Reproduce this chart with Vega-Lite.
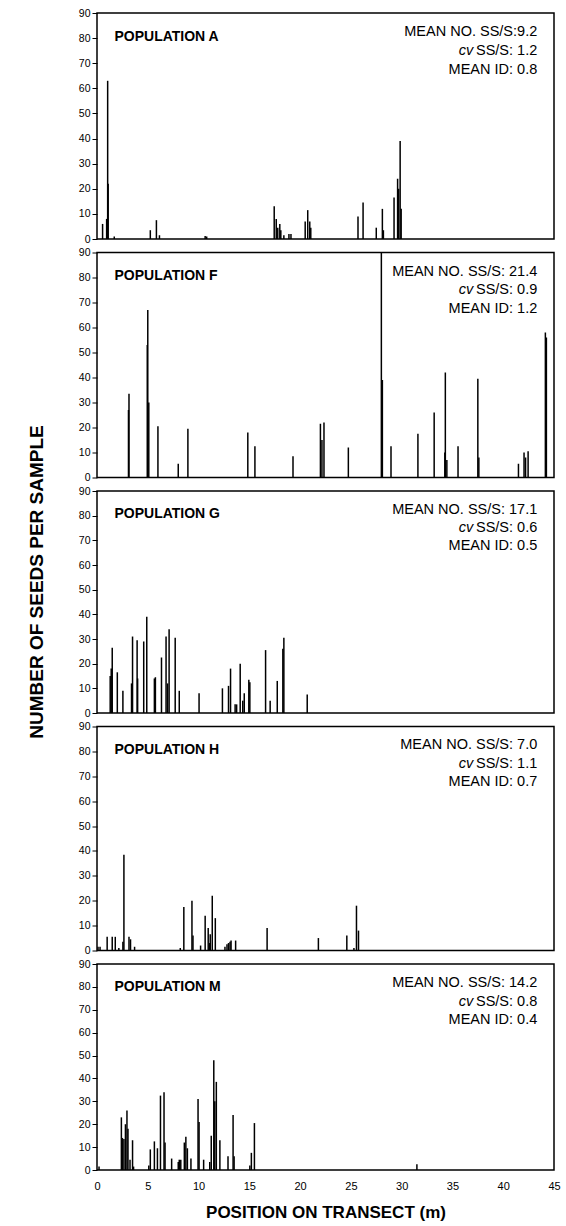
{
  "$schema": "https://vega.github.io/schema/vega-lite/v6.json",
  "padding": {"left": 27, "top": 7, "right": 5, "bottom": 2},
  "background": "white",
  "title": {"text": "NUMBER OF SEEDS PER SAMPLE", "orient": "left", "anchor": "middle", "fontSize": 19, "font": "Liberation Sans", "fontWeight": "bold", "color": "#000", "offset": 31, "dx": 32},
  "spacing": 0.5,
  "config": {
    "view": {"stroke": "#000", "strokeWidth": 1.5},
    "axis": {"labelFont": "Liberation Sans", "labelColor": "#000", "tickColor": "#000", "grid": false, "domain": false, "titleFont": "Liberation Sans", "titleColor": "#000"},
    "axisY": {"tickSize": 5, "tickWidth": 1, "labelFontSize": 10.5, "labelPadding": 2, "tickCount": 10, "labelOverlap": false},
    "text": {"font": "Liberation Sans", "color": "#000"}
  },
  "datasets": {
    "labels": [
      {"pop": "A", "label": "POPULATION A", "mean": "MEAN NO. SS/S:9.2", "cv": "SS/S: 1.2", "id": "MEAN ID: 0.8"},
      {"pop": "F", "label": "POPULATION F", "mean": "MEAN NO. SS/S: 21.4", "cv": "SS/S: 0.9", "id": "MEAN ID: 1.2"},
      {"pop": "G", "label": "POPULATION G", "mean": "MEAN NO. SS/S: 17.1", "cv": "SS/S: 0.6", "id": "MEAN ID: 0.5"},
      {"pop": "H", "label": "POPULATION H", "mean": "MEAN NO. SS/S: 7.0", "cv": "SS/S: 1.1", "id": "MEAN ID: 0.7"},
      {"pop": "M", "label": "POPULATION M", "mean": "MEAN NO. SS/S: 14.2", "cv": "SS/S: 0.8", "id": "MEAN ID: 0.4"}
    ],
    "spikes": [
      {"pop": "A", "pos": 0.55, "seeds": 6}, {"pop": "A", "pos": 0.95, "seeds": 8}, {"pop": "A", "pos": 1.05, "seeds": 63}, {"pop": "A", "pos": 1.1, "seeds": 22},
      {"pop": "A", "pos": 1.7, "seeds": 1}, {"pop": "A", "pos": 5.25, "seeds": 3.5}, {"pop": "A", "pos": 5.85, "seeds": 7.5}, {"pop": "A", "pos": 6.15, "seeds": 1.5},
      {"pop": "A", "pos": 10.65, "seeds": 1.2}, {"pop": "A", "pos": 10.8, "seeds": 1}, {"pop": "A", "pos": 17.45, "seeds": 13}, {"pop": "A", "pos": 17.65, "seeds": 8},
      {"pop": "A", "pos": 17.8, "seeds": 4.5}, {"pop": "A", "pos": 18.0, "seeds": 6}, {"pop": "A", "pos": 18.1, "seeds": 3.5}, {"pop": "A", "pos": 18.4, "seeds": 1.5},
      {"pop": "A", "pos": 18.9, "seeds": 2}, {"pop": "A", "pos": 19.1, "seeds": 2}, {"pop": "A", "pos": 20.5, "seeds": 7}, {"pop": "A", "pos": 20.75, "seeds": 11.5},
      {"pop": "A", "pos": 20.95, "seeds": 7}, {"pop": "A", "pos": 21.05, "seeds": 4.5}, {"pop": "A", "pos": 25.7, "seeds": 9}, {"pop": "A", "pos": 26.2, "seeds": 14.5},
      {"pop": "A", "pos": 27.5, "seeds": 4.5}, {"pop": "A", "pos": 28.1, "seeds": 12}, {"pop": "A", "pos": 28.2, "seeds": 3.5}, {"pop": "A", "pos": 29.25, "seeds": 16.5},
      {"pop": "A", "pos": 29.6, "seeds": 24}, {"pop": "A", "pos": 29.7, "seeds": 20}, {"pop": "A", "pos": 29.85, "seeds": 39}, {"pop": "A", "pos": 29.95, "seeds": 12},

      {"pop": "F", "pos": 3.1, "seeds": 27}, {"pop": "F", "pos": 3.15, "seeds": 33.5}, {"pop": "F", "pos": 4.95, "seeds": 53}, {"pop": "F", "pos": 5.0, "seeds": 67},
      {"pop": "F", "pos": 5.1, "seeds": 30}, {"pop": "F", "pos": 6.0, "seeds": 20.5}, {"pop": "F", "pos": 8.0, "seeds": 5.5}, {"pop": "F", "pos": 8.95, "seeds": 19.5},
      {"pop": "F", "pos": 14.85, "seeds": 18}, {"pop": "F", "pos": 15.55, "seeds": 12.5}, {"pop": "F", "pos": 19.3, "seeds": 8.5}, {"pop": "F", "pos": 22.0, "seeds": 21.5},
      {"pop": "F", "pos": 22.15, "seeds": 15}, {"pop": "F", "pos": 22.35, "seeds": 22}, {"pop": "F", "pos": 24.75, "seeds": 12}, {"pop": "F", "pos": 28.0, "seeds": 90},
      {"pop": "F", "pos": 28.1, "seeds": 39}, {"pop": "F", "pos": 28.95, "seeds": 12.5}, {"pop": "F", "pos": 31.6, "seeds": 17.5}, {"pop": "F", "pos": 33.2, "seeds": 26},
      {"pop": "F", "pos": 34.25, "seeds": 10}, {"pop": "F", "pos": 34.3, "seeds": 42}, {"pop": "F", "pos": 34.45, "seeds": 7}, {"pop": "F", "pos": 35.55, "seeds": 12.5},
      {"pop": "F", "pos": 37.5, "seeds": 39.5}, {"pop": "F", "pos": 37.6, "seeds": 8}, {"pop": "F", "pos": 41.5, "seeds": 5.5}, {"pop": "F", "pos": 42.05, "seeds": 10},
      {"pop": "F", "pos": 42.2, "seeds": 8}, {"pop": "F", "pos": 42.45, "seeds": 10.5}, {"pop": "F", "pos": 44.15, "seeds": 58}, {"pop": "F", "pos": 44.25, "seeds": 56},

      {"pop": "G", "pos": 1.3, "seeds": 15}, {"pop": "G", "pos": 1.4, "seeds": 18}, {"pop": "G", "pos": 1.5, "seeds": 26.5}, {"pop": "G", "pos": 2.0, "seeds": 16.5},
      {"pop": "G", "pos": 2.55, "seeds": 9}, {"pop": "G", "pos": 3.4, "seeds": 12}, {"pop": "G", "pos": 3.5, "seeds": 31}, {"pop": "G", "pos": 3.95, "seeds": 29.5},
      {"pop": "G", "pos": 4.0, "seeds": 14}, {"pop": "G", "pos": 4.6, "seeds": 29}, {"pop": "G", "pos": 4.9, "seeds": 39}, {"pop": "G", "pos": 5.65, "seeds": 14},
      {"pop": "G", "pos": 5.75, "seeds": 14.5}, {"pop": "G", "pos": 6.35, "seeds": 22.5}, {"pop": "G", "pos": 6.8, "seeds": 31}, {"pop": "G", "pos": 6.95, "seeds": 12},
      {"pop": "G", "pos": 7.1, "seeds": 34}, {"pop": "G", "pos": 7.7, "seeds": 30.5}, {"pop": "G", "pos": 8.1, "seeds": 9}, {"pop": "G", "pos": 10.05, "seeds": 8},
      {"pop": "G", "pos": 12.35, "seeds": 10}, {"pop": "G", "pos": 12.95, "seeds": 11}, {"pop": "G", "pos": 13.15, "seeds": 18}, {"pop": "G", "pos": 13.6, "seeds": 3.5},
      {"pop": "G", "pos": 13.75, "seeds": 3.5}, {"pop": "G", "pos": 14.1, "seeds": 20}, {"pop": "G", "pos": 14.35, "seeds": 5}, {"pop": "G", "pos": 14.5, "seeds": 8},
      {"pop": "G", "pos": 14.95, "seeds": 13.5}, {"pop": "G", "pos": 15.05, "seeds": 12.5}, {"pop": "G", "pos": 16.6, "seeds": 25.5}, {"pop": "G", "pos": 17.05, "seeds": 5},
      {"pop": "G", "pos": 17.75, "seeds": 13}, {"pop": "G", "pos": 18.3, "seeds": 26}, {"pop": "G", "pos": 18.4, "seeds": 30.5}, {"pop": "G", "pos": 20.7, "seeds": 7.5},

      {"pop": "H", "pos": 0.1, "seeds": 1.5}, {"pop": "H", "pos": 0.3, "seeds": 1.5}, {"pop": "H", "pos": 1.0, "seeds": 5.5}, {"pop": "H", "pos": 1.5, "seeds": 5.5},
      {"pop": "H", "pos": 1.8, "seeds": 5.5}, {"pop": "H", "pos": 2.15, "seeds": 1}, {"pop": "H", "pos": 2.55, "seeds": 3.5}, {"pop": "H", "pos": 2.65, "seeds": 38.5},
      {"pop": "H", "pos": 3.15, "seeds": 5.5}, {"pop": "H", "pos": 3.3, "seeds": 4.5}, {"pop": "H", "pos": 3.7, "seeds": 1.5}, {"pop": "H", "pos": 8.2, "seeds": 1},
      {"pop": "H", "pos": 8.55, "seeds": 17.5}, {"pop": "H", "pos": 9.35, "seeds": 20}, {"pop": "H", "pos": 9.45, "seeds": 6}, {"pop": "H", "pos": 10.2, "seeds": 2},
      {"pop": "H", "pos": 10.65, "seeds": 14}, {"pop": "H", "pos": 10.95, "seeds": 9}, {"pop": "H", "pos": 11.1, "seeds": 3}, {"pop": "H", "pos": 11.15, "seeds": 6.5},
      {"pop": "H", "pos": 11.35, "seeds": 22}, {"pop": "H", "pos": 11.65, "seeds": 13}, {"pop": "H", "pos": 12.6, "seeds": 1.5}, {"pop": "H", "pos": 12.8, "seeds": 2.5},
      {"pop": "H", "pos": 12.95, "seeds": 3}, {"pop": "H", "pos": 13.1, "seeds": 3.5}, {"pop": "H", "pos": 13.2, "seeds": 4}, {"pop": "H", "pos": 13.65, "seeds": 4},
      {"pop": "H", "pos": 16.75, "seeds": 9}, {"pop": "H", "pos": 21.8, "seeds": 5}, {"pop": "H", "pos": 24.6, "seeds": 6}, {"pop": "H", "pos": 25.3, "seeds": 1},
      {"pop": "H", "pos": 25.55, "seeds": 18}, {"pop": "H", "pos": 25.75, "seeds": 8},

      {"pop": "M", "pos": 0.2, "seeds": 1.5}, {"pop": "M", "pos": 2.4, "seeds": 23}, {"pop": "M", "pos": 2.5, "seeds": 14}, {"pop": "M", "pos": 2.65, "seeds": 13.5},
      {"pop": "M", "pos": 2.8, "seeds": 20}, {"pop": "M", "pos": 2.95, "seeds": 26}, {"pop": "M", "pos": 3.05, "seeds": 18}, {"pop": "M", "pos": 3.25, "seeds": 4.5},
      {"pop": "M", "pos": 3.5, "seeds": 13}, {"pop": "M", "pos": 3.6, "seeds": 1.5}, {"pop": "M", "pos": 5.1, "seeds": 2}, {"pop": "M", "pos": 5.25, "seeds": 9},
      {"pop": "M", "pos": 5.65, "seeds": 12.5}, {"pop": "M", "pos": 5.95, "seeds": 9.5}, {"pop": "M", "pos": 6.25, "seeds": 32.5}, {"pop": "M", "pos": 6.6, "seeds": 34},
      {"pop": "M", "pos": 6.7, "seeds": 12}, {"pop": "M", "pos": 7.35, "seeds": 5}, {"pop": "M", "pos": 8.0, "seeds": 3.5}, {"pop": "M", "pos": 8.1, "seeds": 4.5},
      {"pop": "M", "pos": 8.25, "seeds": 4.5}, {"pop": "M", "pos": 8.6, "seeds": 12}, {"pop": "M", "pos": 8.75, "seeds": 14.5}, {"pop": "M", "pos": 8.9, "seeds": 9.5},
      {"pop": "M", "pos": 9.25, "seeds": 5}, {"pop": "M", "pos": 9.95, "seeds": 31}, {"pop": "M", "pos": 10.05, "seeds": 21}, {"pop": "M", "pos": 10.5, "seeds": 4.5},
      {"pop": "M", "pos": 11.1, "seeds": 3.5}, {"pop": "M", "pos": 11.25, "seeds": 15}, {"pop": "M", "pos": 11.5, "seeds": 48}, {"pop": "M", "pos": 11.6, "seeds": 30},
      {"pop": "M", "pos": 11.75, "seeds": 38.5}, {"pop": "M", "pos": 12.1, "seeds": 13}, {"pop": "M", "pos": 12.9, "seeds": 6}, {"pop": "M", "pos": 13.4, "seeds": 24},
      {"pop": "M", "pos": 13.5, "seeds": 6}, {"pop": "M", "pos": 15.05, "seeds": 2}, {"pop": "M", "pos": 15.2, "seeds": 7.5}, {"pop": "M", "pos": 15.5, "seeds": 20.5},
      {"pop": "M", "pos": 31.5, "seeds": 2.5}
    ]
  },
  "vconcat": [
    {
      "width": 457, "height": 226,
      "layer": [
        {"data": {"name": "spikes"}, "transform": [{"filter": "datum.pop === 'A'"}], "mark": {"type": "rule", "color": "#000", "strokeWidth": 1.5},
         "encoding": {"x": {"field": "pos", "type": "quantitative", "scale": {"domain": [0, 45], "nice": false}, "axis": null},
                      "y": {"field": "seeds", "type": "quantitative", "scale": {"domain": [0, 90], "nice": false}, "axis": {"values": [0,10,20,30,40,50,60,70,80,90], "title": null}},
                      "y2": {"datum": 0}}},
        {"data": {"name": "labels"}, "transform": [{"filter": "datum.pop === 'A'"}], "mark": {"type": "text", "fontWeight": "bold", "fontSize": 14, "align": "left", "baseline": "alphabetic"},
         "encoding": {"x": {"datum": 1.72}, "y": {"datum": 79}, "text": {"field": "label"}}},
        {"data": {"name": "labels"}, "transform": [{"filter": "datum.pop === 'A'"}], "mark": {"type": "text", "fontSize": 14.5, "align": "right", "baseline": "alphabetic"},
         "encoding": {"x": {"datum": 43.35}, "y": {"datum": 80.8}, "text": {"field": "mean"}}},
        {"data": {"name": "labels"}, "transform": [{"filter": "datum.pop === 'A'"}], "mark": {"type": "text", "fontSize": 14.5, "align": "right", "baseline": "alphabetic"},
         "encoding": {"x": {"datum": 43.35}, "y": {"datum": 73.3}, "text": {"field": "cv"}}},
        {"data": {"name": "labels"}, "transform": [{"filter": "datum.pop === 'A'"}], "mark": {"type": "text", "fontSize": 14.5, "fontStyle": "italic", "align": "right", "baseline": "alphabetic"},
         "encoding": {"x": {"datum": 37.05}, "y": {"datum": 73.3}, "text": {"value": "cv"}}},
        {"data": {"name": "labels"}, "transform": [{"filter": "datum.pop === 'A'"}], "mark": {"type": "text", "fontSize": 14.5, "align": "right", "baseline": "alphabetic"},
         "encoding": {"x": {"datum": 43.35}, "y": {"datum": 65.9}, "text": {"field": "id"}}}
      ]
    },
    {
      "width": 457, "height": 225,
      "layer": [
        {"data": {"name": "spikes"}, "transform": [{"filter": "datum.pop === 'F'"}], "mark": {"type": "rule", "color": "#000", "strokeWidth": 1.5},
         "encoding": {"x": {"field": "pos", "type": "quantitative", "scale": {"domain": [0, 45], "nice": false}, "axis": null},
                      "y": {"field": "seeds", "type": "quantitative", "scale": {"domain": [0, 90], "nice": false}, "axis": {"values": [0,10,20,30,40,50,60,70,80,90], "title": null}},
                      "y2": {"datum": 0}}},
        {"data": {"name": "labels"}, "transform": [{"filter": "datum.pop === 'F'"}], "mark": {"type": "text", "fontWeight": "bold", "fontSize": 14, "align": "left", "baseline": "alphabetic"},
         "encoding": {"x": {"datum": 1.72}, "y": {"datum": 79}, "text": {"field": "label"}}},
        {"data": {"name": "labels"}, "transform": [{"filter": "datum.pop === 'F'"}], "mark": {"type": "text", "fontSize": 14.5, "align": "right", "baseline": "alphabetic"},
         "encoding": {"x": {"datum": 43.35}, "y": {"datum": 80.8}, "text": {"field": "mean"}}},
        {"data": {"name": "labels"}, "transform": [{"filter": "datum.pop === 'F'"}], "mark": {"type": "text", "fontSize": 14.5, "align": "right", "baseline": "alphabetic"},
         "encoding": {"x": {"datum": 43.35}, "y": {"datum": 73.3}, "text": {"field": "cv"}}},
        {"data": {"name": "labels"}, "transform": [{"filter": "datum.pop === 'F'"}], "mark": {"type": "text", "fontSize": 14.5, "fontStyle": "italic", "align": "right", "baseline": "alphabetic"},
         "encoding": {"x": {"datum": 37.05}, "y": {"datum": 73.3}, "text": {"value": "cv"}}},
        {"data": {"name": "labels"}, "transform": [{"filter": "datum.pop === 'F'"}], "mark": {"type": "text", "fontSize": 14.5, "align": "right", "baseline": "alphabetic"},
         "encoding": {"x": {"datum": 43.35}, "y": {"datum": 65.9}, "text": {"field": "id"}}}
      ]
    },
    {
      "width": 457, "height": 222,
      "layer": [
        {"data": {"name": "spikes"}, "transform": [{"filter": "datum.pop === 'G'"}], "mark": {"type": "rule", "color": "#000", "strokeWidth": 1.5},
         "encoding": {"x": {"field": "pos", "type": "quantitative", "scale": {"domain": [0, 45], "nice": false}, "axis": null},
                      "y": {"field": "seeds", "type": "quantitative", "scale": {"domain": [0, 90], "nice": false}, "axis": {"values": [0,10,20,30,40,50,60,70,80,90], "title": null}},
                      "y2": {"datum": 0}}},
        {"data": {"name": "labels"}, "transform": [{"filter": "datum.pop === 'G'"}], "mark": {"type": "text", "fontWeight": "bold", "fontSize": 14, "align": "left", "baseline": "alphabetic"},
         "encoding": {"x": {"datum": 1.72}, "y": {"datum": 79}, "text": {"field": "label"}}},
        {"data": {"name": "labels"}, "transform": [{"filter": "datum.pop === 'G'"}], "mark": {"type": "text", "fontSize": 14.5, "align": "right", "baseline": "alphabetic"},
         "encoding": {"x": {"datum": 43.35}, "y": {"datum": 80.8}, "text": {"field": "mean"}}},
        {"data": {"name": "labels"}, "transform": [{"filter": "datum.pop === 'G'"}], "mark": {"type": "text", "fontSize": 14.5, "align": "right", "baseline": "alphabetic"},
         "encoding": {"x": {"datum": 43.35}, "y": {"datum": 73.3}, "text": {"field": "cv"}}},
        {"data": {"name": "labels"}, "transform": [{"filter": "datum.pop === 'G'"}], "mark": {"type": "text", "fontSize": 14.5, "fontStyle": "italic", "align": "right", "baseline": "alphabetic"},
         "encoding": {"x": {"datum": 37.05}, "y": {"datum": 73.3}, "text": {"value": "cv"}}},
        {"data": {"name": "labels"}, "transform": [{"filter": "datum.pop === 'G'"}], "mark": {"type": "text", "fontSize": 14.5, "align": "right", "baseline": "alphabetic"},
         "encoding": {"x": {"datum": 43.35}, "y": {"datum": 65.9}, "text": {"field": "id"}}}
      ]
    },
    {
      "width": 457, "height": 224,
      "layer": [
        {"data": {"name": "spikes"}, "transform": [{"filter": "datum.pop === 'H'"}], "mark": {"type": "rule", "color": "#000", "strokeWidth": 1.5},
         "encoding": {"x": {"field": "pos", "type": "quantitative", "scale": {"domain": [0, 45], "nice": false}, "axis": null},
                      "y": {"field": "seeds", "type": "quantitative", "scale": {"domain": [0, 90], "nice": false}, "axis": {"values": [0,10,20,30,40,50,60,70,80,90], "title": null}},
                      "y2": {"datum": 0}}},
        {"data": {"name": "labels"}, "transform": [{"filter": "datum.pop === 'H'"}], "mark": {"type": "text", "fontWeight": "bold", "fontSize": 14, "align": "left", "baseline": "alphabetic"},
         "encoding": {"x": {"datum": 1.72}, "y": {"datum": 79}, "text": {"field": "label"}}},
        {"data": {"name": "labels"}, "transform": [{"filter": "datum.pop === 'H'"}], "mark": {"type": "text", "fontSize": 14.5, "align": "right", "baseline": "alphabetic"},
         "encoding": {"x": {"datum": 43.35}, "y": {"datum": 80.8}, "text": {"field": "mean"}}},
        {"data": {"name": "labels"}, "transform": [{"filter": "datum.pop === 'H'"}], "mark": {"type": "text", "fontSize": 14.5, "align": "right", "baseline": "alphabetic"},
         "encoding": {"x": {"datum": 43.35}, "y": {"datum": 73.3}, "text": {"field": "cv"}}},
        {"data": {"name": "labels"}, "transform": [{"filter": "datum.pop === 'H'"}], "mark": {"type": "text", "fontSize": 14.5, "fontStyle": "italic", "align": "right", "baseline": "alphabetic"},
         "encoding": {"x": {"datum": 37.05}, "y": {"datum": 73.3}, "text": {"value": "cv"}}},
        {"data": {"name": "labels"}, "transform": [{"filter": "datum.pop === 'H'"}], "mark": {"type": "text", "fontSize": 14.5, "align": "right", "baseline": "alphabetic"},
         "encoding": {"x": {"datum": 43.35}, "y": {"datum": 65.9}, "text": {"field": "id"}}}
      ]
    },
    {
      "width": 457, "height": 206,
      "layer": [
        {"data": {"name": "spikes"}, "transform": [{"filter": "datum.pop === 'M'"}], "mark": {"type": "rule", "color": "#000", "strokeWidth": 1.5},
         "encoding": {"x": {"field": "pos", "type": "quantitative", "scale": {"domain": [0, 45], "nice": false},
                            "axis": {"values": [0,5,10,15,20,25,30,35,40,45], "ticks": false, "labelPadding": 10, "labelFontSize": 11, "labelFlush": false, "labelOverlap": false,
                                     "title": "POSITION ON TRANSECT (m)", "titleFontSize": 17, "titleFontWeight": "bold", "titlePadding": 13}},
                      "y": {"field": "seeds", "type": "quantitative", "scale": {"domain": [0, 90], "nice": false}, "axis": {"values": [0,10,20,30,40,50,60,70,80,90], "title": null}},
                      "y2": {"datum": 0}}},
        {"data": {"name": "labels"}, "transform": [{"filter": "datum.pop === 'M'"}], "mark": {"type": "text", "fontWeight": "bold", "fontSize": 14, "align": "left", "baseline": "alphabetic"},
         "encoding": {"x": {"datum": 1.72}, "y": {"datum": 78}, "text": {"field": "label"}}},
        {"data": {"name": "labels"}, "transform": [{"filter": "datum.pop === 'M'"}], "mark": {"type": "text", "fontSize": 14.5, "align": "right", "baseline": "alphabetic"},
         "encoding": {"x": {"datum": 43.35}, "y": {"datum": 80}, "text": {"field": "mean"}}},
        {"data": {"name": "labels"}, "transform": [{"filter": "datum.pop === 'M'"}], "mark": {"type": "text", "fontSize": 14.5, "align": "right", "baseline": "alphabetic"},
         "encoding": {"x": {"datum": 43.35}, "y": {"datum": 71.8}, "text": {"field": "cv"}}},
        {"data": {"name": "labels"}, "transform": [{"filter": "datum.pop === 'M'"}], "mark": {"type": "text", "fontSize": 14.5, "fontStyle": "italic", "align": "right", "baseline": "alphabetic"},
         "encoding": {"x": {"datum": 37.05}, "y": {"datum": 71.8}, "text": {"value": "cv"}}},
        {"data": {"name": "labels"}, "transform": [{"filter": "datum.pop === 'M'"}], "mark": {"type": "text", "fontSize": 14.5, "align": "right", "baseline": "alphabetic"},
         "encoding": {"x": {"datum": 43.35}, "y": {"datum": 63.8}, "text": {"field": "id"}}}
      ]
    }
  ]
}
